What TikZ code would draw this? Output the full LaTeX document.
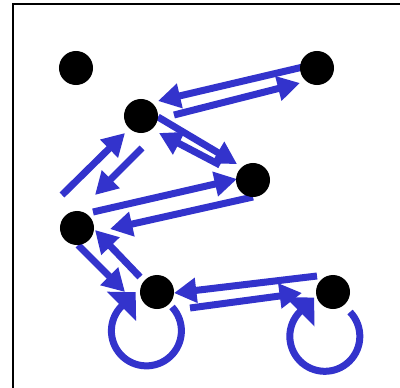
\documentclass[tikz,border=0pt]{standalone}
\usetikzlibrary{arrows.meta,backgrounds}
\definecolor{flowblue}{RGB}{51,51,204}

\begin{document}
\begin{tikzpicture}[x=0.025cm,y=-0.025cm,
    state/.style={circle,fill=black,minimum size=0.85cm,inner sep=0pt},
    flow/.style={draw=flowblue,line width=0.175cm,
                 -{Triangle[length=0.56cm,width=0.6cm]}},
    selfflow/.style={flow,-{Triangle[length=0.5cm,width=1cm]}}]
  \useasboundingbox (0,0) rectangle (400,387);
  \clip (0,0) rectangle (400,387);
  \draw[line width=0.05cm] (13,420) -- (13,4.3) -- (420,4.3);
  \foreach \n/\x/\y in {a/76/68, b/317/68, c/141/116, d/253/180,
                        e/77/228, f/157/292, g/333/292}
    \node[state] (\n) at (\x,\y) {};
  \begin{scope}[on background layer]
    \foreach \s/\sx/\sy/\t/\tx/\ty in {
        b/-14/-1/c/17/-15,  c/33/-1/b/-17/15,
        c/17/1/d/-16/-16,   d/-33/-15/c/18/17,
        e/-15/-33/c/-16/17, c/1/32/e/18/-33,
        e/16/-16/d/-16/-1,  d/0/17/e/33/1,
        e/1/17/f/-32/0,     f/-17/-15/e/18/2,
        g/-16/-16/f/17/1,   f/33/16/g/-31/1}
      \draw[flow] ([shift={(\sx,\sy)}]\s.center) -- ([shift={(\tx,\ty)}]\t.center);
    % self loops
    \draw[selfflow] ([shift={(15,15)}]f.center)
          arc[start angle=-43,end angle=225,radius=35] -- ++(14,-14);
    \draw[selfflow] ([shift={(17,20)}]g.center)
          arc[start angle=-44,end angle=225,radius=35] -- ++(14,-14);
  \end{scope}
\end{tikzpicture}
\end{document}
